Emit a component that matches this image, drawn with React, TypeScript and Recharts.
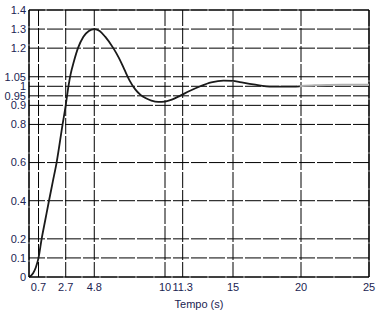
import React from 'react'
import { LineChart, Line, XAxis, YAxis, CartesianGrid, ReferenceLine } from 'recharts'

// step response (time in s, output)
const times = [0, 0.3, 0.5, 0.7, 0.93, 1.2, 1.47, 1.75, 2.03, 2.47, 2.7, 2.9, 3.05, 3.3, 3.6, 4.0, 4.4, 4.8, 5.2, 5.6, 6.2, 6.6, 7.0, 7.4, 7.8, 8.2, 8.6, 9.0, 9.5, 10, 10.5, 11.1, 11.8, 12.6, 13.4, 14.3, 15, 15.5, 16.5, 17.9, 19, 19.9, 21, 22, 23, 24, 25]
const response = [0, 0.02, 0.05, 0.1, 0.2, 0.3, 0.4, 0.5, 0.6, 0.8, 0.9, 1.0, 1.06, 1.13, 1.2, 1.26, 1.29, 1.3, 1.29, 1.26, 1.2, 1.15, 1.09, 1.03, 0.985, 0.955, 0.937, 0.925, 0.918, 0.92, 0.93, 0.95, 0.975, 1.0, 1.02, 1.03, 1.028, 1.022, 1.01, 0.998, 0.998, 1.0, 1.005, 1.007, 1.008, 1.008, 1.008]

// the tail of the curve is printed faded in the original
const FADE_FROM = 19.9

const xTicks = [0.7, 2.7, 4.8, 10, 11.3, 15, 20, 25]
const yTicks = [0, 0.1, 0.2, 0.4, 0.6, 0.8, 0.9, 0.95, 1, 1.05, 1.2, 1.3, 1.4]

const data = times.map((t, i) => ({
  t,
  main: t <= FADE_FROM ? response[i] : null,
  tail: t >= FADE_FROM ? response[i] : null,
}))

const FONT = '"Liberation Sans", Arial, sans-serif'
const TEXT = '#1b2452'

export default function App() {
  return (
    <div style={{ position: 'absolute', left: 0, top: 0, background: '#fff' }}>
      <LineChart width={380} height={313} data={data} margin={{ top: 10, right: 11, left: 0, bottom: 0 }}>
        <CartesianGrid stroke="#000" strokeDasharray="16 2" strokeWidth={1} />
        <XAxis
          dataKey="t"
          type="number"
          domain={[0, 25]}
          ticks={xTicks}
          interval={0}
          height={36}
          tickLine={false}
          tickSize={6}
          tickMargin={0}
          axisLine={{ stroke: '#000', strokeWidth: 1.2 }}
          tick={{ fill: TEXT, fontSize: 11, fontFamily: FONT }}
          label={{ value: 'Tempo (s)', position: 'insideBottom', offset: 5, fill: TEXT, fontSize: 11, fontFamily: FONT }}
        />
        <YAxis
          type="number"
          domain={[0, 1.4]}
          ticks={yTicks}
          interval={0}
          width={29}
          tickLine={false}
          tickSize={3}
          tickMargin={0}
          axisLine={{ stroke: '#000', strokeWidth: 1.2 }}
          tick={{ fill: TEXT, fontSize: 11, fontFamily: FONT }}
        />
        <ReferenceLine x={25} stroke="#000" strokeWidth={1.2} />
        <ReferenceLine y={1.4} stroke="#000" strokeWidth={1.2} />
        <Line type="monotone" dataKey="tail" stroke="#b0b0b0" strokeWidth={2} dot={false} connectNulls={false} isAnimationActive={false} />
        <Line type="monotone" dataKey="main" stroke="#1a1a1a" strokeWidth={1.8} dot={false} connectNulls={false} isAnimationActive={false} />
      </LineChart>
    </div>
  )
}
